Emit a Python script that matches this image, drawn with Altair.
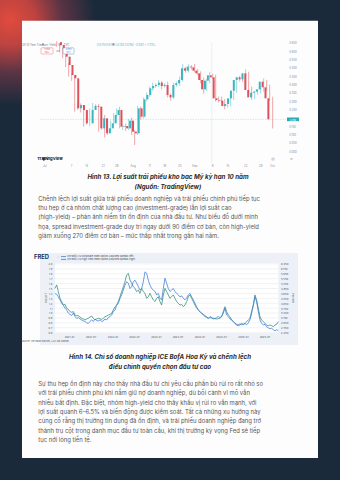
import altair as alt
import pandas as pd

BG = "#1b2a3a"
FONT = "Inter"

# ---------------- Figure 13: US 10Y Treasury yield, daily candles ----------------
closes = [4.638, 4.608, 4.568, 4.518, 4.458, 4.438, 4.258, 4.278, 4.248, 4.168,
          4.168, 4.248, 4.272, 4.268, 4.138, 4.198, 4.108, 4.138, 4.168, 4.218,
          4.248, 4.148, 4.152, 4.138, 4.184, 4.118, 4.108, 4.258, 4.208, 4.312,
          4.338, 4.378, 4.392, 4.398, 4.412, 4.392, 4.398, 4.338, 4.324, 4.398,
          4.408, 4.428, 4.498, 4.484, 4.508, 4.504, 4.484, 4.468, 4.428, 4.372,
          4.424, 4.456, 4.444, 4.318, 4.308, 4.304, 4.272, 4.284, 4.318, 4.364,
          4.428, 4.444, 4.432, 4.468, 4.368, 4.324, 4.352, 4.358, 4.372, 4.418,
          4.384, 4.318, 4.192]
first_open = 4.655
wick_hi = [0.005, 0.010, 0.015, 0.010, 0.012, 0.010, 0.020, 0.015, 0.010, 0.012,
           0.015, 0.010, 0.018, 0.010, 0.015, 0.010, 0.020, 0.010, 0.015, 0.012,
           0.010, 0.020, 0.010, 0.015, 0.010, 0.018, 0.010, 0.015, 0.010, 0.012,
           0.015, 0.010, 0.020, 0.010, 0.015, 0.010, 0.012, 0.020, 0.010, 0.015,
           0.010, 0.020, 0.025, 0.010, 0.015, 0.010, 0.020, 0.010, 0.012, 0.015,
           0.010, 0.020, 0.010, 0.015, 0.010, 0.020, 0.010, 0.015, 0.010, 0.012,
           0.020, 0.010, 0.015, 0.025, 0.010, 0.020, 0.010, 0.015, 0.010, 0.020,
           0.010, 0.015, 0.010]
wick_lo = [0.010, 0.015, 0.010, 0.012, 0.010, 0.015, 0.020, 0.010, 0.015, 0.020,
           0.010, 0.015, 0.010, 0.012, 0.020, 0.010, 0.025, 0.010, 0.015, 0.010,
           0.012, 0.010, 0.020, 0.015, 0.010, 0.020, 0.070, 0.010, 0.015, 0.010,
           0.012, 0.010, 0.015, 0.010, 0.012, 0.020, 0.010, 0.015, 0.020, 0.010,
           0.010, 0.015, 0.010, 0.012, 0.010, 0.015, 0.010, 0.012, 0.020, 0.025,
           0.010, 0.015, 0.010, 0.020, 0.015, 0.010, 0.020, 0.010, 0.015, 0.010,
           0.012, 0.010, 0.015, 0.010, 0.020, 0.015, 0.010, 0.012, 0.010, 0.015,
           0.020, 0.015, 0.055]
price_ticks = [4.65, 4.60, 4.55, 4.50, 4.45, 4.40, 4.35, 4.30, 4.25, 4.15, 4.10, 4.05, 4.00]
time_tick_pos = [-4, 5, 10, 15.5, 20, 25.5, 31, 36, 41, 46, 52, 57, 63, 68, 72]
time_tick_lbl = ["Jul", "7", "14", "21", "28", "Aug", "11", "18", "25", "Sep", "8", "15", "22", "29", "Oct"]

# ---------------- Figure 14: FRED option-adjusted spreads ----------------
ig_oas = [1.40, 1.38, 1.33, 1.27, 1.20, 1.16, 1.10, 1.06, 1.00, 0.97,
          0.95, 1.00, 0.93, 0.89, 0.91, 0.88, 0.86, 0.84, 0.83, 0.80,
          0.79, 0.83, 0.86, 0.83, 0.88, 0.85, 0.84, 0.86, 0.83, 0.84,
          0.88, 0.86, 0.91, 0.93, 0.96, 1.03, 1.06, 1.16, 1.20, 1.30,
          1.37, 1.47, 1.57, 1.64, 1.61, 1.50, 1.54, 1.64, 1.67, 1.61,
          1.54, 1.47, 1.50, 1.64, 1.84, 1.81, 1.67, 1.57, 1.50, 1.47,
          1.44, 1.37, 1.40, 1.30, 1.27, 1.50, 1.71, 1.61, 1.50, 1.44,
          1.47, 1.50, 1.44, 1.40, 1.37, 1.33, 1.35, 1.30, 1.27, 1.31,
          1.37, 1.40, 1.33, 1.27, 1.20, 1.13, 1.06, 1.03, 1.00, 0.96,
          0.93, 0.91, 0.89, 0.93, 0.91, 0.88, 0.89, 0.91, 0.93, 0.91,
          0.93, 1.00, 1.10, 0.96, 0.93, 0.88, 0.86, 0.83, 0.79, 0.77,
          0.76, 0.78, 0.76, 0.77, 0.79, 0.76, 0.80, 0.86, 1.00, 1.16,
          1.33, 1.23, 1.03, 0.86, 0.79, 0.76, 0.77, 0.72, 0.70, 0.68,
          0.69, 0.66, 0.64, 0.66, 0.64]
hy_oas = [4.96, 5.17, 4.76, 4.35, 4.15, 3.94, 3.98, 3.74, 3.68, 3.54,
          3.50, 3.54, 3.33, 3.29, 3.29, 3.21, 3.13, 3.09, 3.03, 3.09,
          3.13, 3.21, 3.27, 3.13, 3.03, 3.09, 3.13, 3.09, 3.07, 3.13,
          3.23, 3.27, 3.33, 3.37, 3.43, 3.64, 3.84, 3.94, 4.15, 4.45,
          4.76, 5.06, 5.37, 5.78, 5.88, 5.47, 5.27, 5.06, 4.96, 4.76,
          4.86, 4.66, 4.96, 4.76, 4.66, 4.35, 4.45, 4.66, 4.45, 4.25,
          4.15, 4.35, 4.45, 4.15, 3.94, 4.56, 4.96, 4.76, 4.56, 4.35,
          4.45, 4.56, 4.35, 4.15, 4.05, 3.94, 3.98, 3.84, 3.94, 4.15,
          4.45, 4.56, 4.35, 4.15, 3.94, 3.74, 3.64, 3.54, 3.43, 3.37,
          3.29, 3.23, 3.13, 3.17, 3.15, 3.13, 3.11, 3.09, 3.11, 3.13,
          3.23, 3.54, 3.84, 3.54, 3.33, 3.23, 3.03, 2.92, 2.82, 2.72,
          2.68, 2.72, 2.82, 2.76, 2.82, 2.92, 3.03, 3.13, 3.54, 3.94,
          4.56, 4.25, 3.74, 3.23, 3.03, 2.92, 2.82, 2.72, 2.68, 2.72,
          2.68, 2.62, 2.72, 2.76, 2.92]
left_ticks = [0.6, 0.7, 0.8, 0.9, 1.0, 1.1, 1.2, 1.3, 1.4, 1.5, 1.6, 1.7, 1.8, 1.9, 2.0]
right_ticks = [2.25, 2.55, 2.85, 3.15, 3.45, 3.75, 4.05, 4.35, 4.65, 4.95, 5.25, 5.55, 5.85, 6.15, 6.45]
x_ticks = ["2021-01", "2021-07", "2022-01", "2022-07", "2023-01", "2023-07",
           "2024-01", "2024-07", "2025-01", "2025-07"]

# ---------------- texts ----------------
cap1 = ["Hình 13. Lợi suất trái phiếu kho bạc Mỹ kỳ hạn 10 năm", "(Nguồn: TradingView)"]
para1 = ["Chênh lệch lợi suất giữa trái phiếu doanh nghiệp và trái phiếu chính phủ tiếp tục",
         "thu hẹp ở cả nhóm chất lượng cao (investment-grade) lẫn lợi suất cao",
         "(high-yield) – phản ánh niềm tin ổn định của nhà đầu tư. Như biểu đồ dưới minh",
         "họa, spread investment-grade duy trì ngay dưới 90 điểm cơ bản, còn high-yield",
         "giảm xuống 270 điểm cơ bản – mức thấp nhất trong gần hai năm."]
cap2 = ["Hình 14. Chỉ số doanh nghiệp ICE BofA Hoa Kỳ và chênh lệch",
        "điều chỉnh quyền chọn đầu tư cao"]
para2 = ["Sự thu hẹp ổn định này cho thấy nhà đầu tư chỉ yêu cầu phần bù rủi ro rất nhỏ so",
         "với trái phiếu chính phủ khi nắm giữ nợ doanh nghiệp, dù bối cảnh vĩ mô vẫn",
         "nhiều bất định. Đặc biệt, nhóm high-yield cho thấy khẩu vị rủi ro vẫn mạnh, với",
         "lợi suất quanh 6–6.5% và biến động được kiểm soát. Tất cả những xu hướng này",
         "củng cố rằng thị trường tín dụng đã ổn định, và trái phiếu doanh nghiệp đang trở",
         "thành trụ cột trong danh mục đầu tư toàn cầu, khi thị trường kỳ vọng Fed sẽ tiếp",
         "tục nới lỏng tiền tệ."]
fred_legend = ["ICE BofA US Corporate Index Option-Adjusted Spread (left)",
               "ICE BofA US High Yield Index Option-Adjusted Spread (right)"]

# ---------------- helpers ----------------
ONE = alt.Data(values=[{"a": 1}])


def vrect(x, x2, y, y2, **mk):
    return alt.Chart(ONE).mark_rect(**mk).encode(
        x=alt.value(x), x2=alt.value(x2), y=alt.value(y), y2=alt.value(y2))


def vtext(t, x, y, **mk):
    mk.setdefault("font", FONT)
    mk.setdefault("baseline", "middle")
    return alt.Chart(ONE).mark_text(text=t, **mk).encode(x=alt.value(x), y=alt.value(y))


def lines_text(lines, x, y0, dy, **mk):
    mk.setdefault("font", FONT)
    mk.setdefault("baseline", "middle")
    n = len(lines)
    df = pd.DataFrame({"t": lines, "k": list(range(n))})
    m = max(n - 1, 1)
    return alt.Chart(df).mark_text(**mk).encode(
        x=alt.value(x),
        y=alt.Y("k:Q", axis=None,
                scale=alt.Scale(domain=[0, m], range=[y0, y0 + dy * m], nice=False, zero=False)),
        text="t:N")


layers = []

# glow + card
layers.append(alt.Chart(ONE).mark_rect(fill=alt.RadialGradient(
    gradient="radial",
    stops=[alt.GradientStop(offset=0, color="#e04b3d"),
           alt.GradientStop(offset=0.3, color="#bd4340"),
           alt.GradientStop(offset=0.62, color="#5a3444"),
           alt.GradientStop(offset=1, color=BG)],
    x1=0.5, y1=0.5, r1=0, x2=0.5, y2=0.5, r2=0.5)).encode(
    x=alt.value(-75), x2=alt.value(95), y=alt.value(-65), y2=alt.value(105)))
layers.append(vrect(22, 318, 20.7, 458, fill="#fdfdfd"))

# ---------------- candle chart ----------------
opens = [first_open] + closes[:-1]
highs = [max(o, c) + w for o, c, w in zip(opens, closes, wick_hi)]
lows = [min(o, c) - w for o, c, w in zip(opens, closes, wick_lo)]
cdf = pd.DataFrame({"i": list(range(len(closes))), "o": opens, "c": closes, "h": highs, "l": lows})
cx = alt.Scale(domain=[-6, 78], range=[38.67, 290.67], nice=False, zero=False)
cy = alt.Scale(domain=[4.0, 4.7], range=[151.33, 34.67], nice=False, zero=False)
UP, DOWN = "#3ab6c3", "#e0505a"
ccol = alt.condition("datum.c >= datum.o", alt.value(UP), alt.value(DOWN))

# crosshair and price line
layers.append(alt.Chart(ONE).mark_rule(color="#dde0e5", strokeWidth=0.5).encode(
    x=alt.X(datum=51.7, scale=cx, axis=None), y=alt.value(42), y2=alt.value(163)))
layers.append(alt.Chart(ONE).mark_rule(color="#9fd9e0", strokeWidth=0.5, strokeDash=[1.5, 1]).encode(
    y=alt.Y(datum=closes[-1], scale=cy, axis=None), x=alt.value(40), x2=alt.value(287)))

layers.append(alt.Chart(cdf).mark_rule(strokeWidth=0.5).encode(
    x=alt.X("i:Q", scale=cx, axis=None),
    y=alt.Y("l:Q", scale=cy, axis=None), y2="h:Q", color=ccol))
layers.append(alt.Chart(cdf).mark_bar(size=2.0).encode(
    x=alt.X("i:Q", scale=cx, axis=None),
    y=alt.Y("o:Q", scale=cy, axis=None), y2="c:Q", color=ccol))

# price axis labels
layers.append(alt.Chart(pd.DataFrame({"v": price_ticks})).mark_text(
    font=FONT, fontSize=2.8, color="#8a8e96", align="left", baseline="middle").encode(
    x=alt.value(289), y=alt.Y("v:Q", scale=cy, axis=None), text=alt.Text("v:Q", format=".3f")))
# current price tag
layers.append(alt.Chart(ONE).mark_rect(fill="#2aa9b6").encode(
    x=alt.value(287), x2=alt.value(299),
    y=alt.Y(datum=closes[-1] + 0.011, scale=cy, axis=None), y2=alt.Y2(datum=closes[-1] - 0.011)))
layers.append(alt.Chart(ONE).mark_text(text=f"{closes[-1]:.3f}", font=FONT, fontSize=2.6,
                                       color="white", baseline="middle").encode(
    x=alt.value(293), y=alt.Y(datum=closes[-1], scale=cy, axis=None)))
# time axis labels
layers.append(alt.Chart(pd.DataFrame({"p": time_tick_pos, "t": time_tick_lbl})).mark_text(
    font=FONT, fontSize=2.8, color="#8a8e96", baseline="middle").encode(
    x=alt.X("p:Q", scale=cx, axis=None), y=alt.value(165.5), text="t:N"))

# legend row and price boxes
layers.append(alt.Chart(ONE).mark_circle(size=5, color="#8f9bb3", opacity=1).encode(
    x=alt.value(43), y=alt.value(44.3)))
layers.append(vtext("US 10 Year Treasury Yield · 1D · TVC", 45.5, 44.3, fontSize=2.8, color="#7b7f88"))
layers.append(alt.Chart(ONE).mark_circle(size=3, color="#e0505a", opacity=1).encode(
    x=alt.value(113.5), y=alt.value(44.3)))
layers.append(vtext("O4.174  H4.181  L4.135  C4.192  −0.047  (−1.11%)", 126, 44.3,
                    fontSize=2.8, color="#3ab6c3"))
layers.append(vrect(41, 53, 47.8, 54, fill="white", stroke="#e0505a", strokeWidth=0.4, cornerRadius=0.8))
layers.append(vrect(63, 74, 47.8, 54, fill="white", stroke="#2f7fe0", strokeWidth=0.4, cornerRadius=0.8))
layers.append(vtext("4.190", 47, 49.6, fontSize=2.3, color="#e0505a", align="center"))
layers.append(vtext("SELL", 47, 52.2, fontSize=2.0, color="#e0505a", align="center"))
layers.append(vtext("0.3", 58, 50.8, fontSize=2.0, color="#555", align="center"))
layers.append(vtext("4.193", 68.5, 49.6, fontSize=2.3, color="#2f7fe0", align="center"))
layers.append(vtext("BUY", 68.5, 52.2, fontSize=2.0, color="#2f7fe0", align="center"))

# TradingView logo (drawn glyph) + wordmark + corner icons
layers.append(vrect(42, 45.2, 157.6, 158.6, fill="#131722"))
layers.append(vrect(43.2, 44.4, 158.6, 160.8, fill="#131722"))
layers.append(alt.Chart(ONE).mark_circle(size=1.6, color="#131722", opacity=1).encode(
    x=alt.value(46.2), y=alt.value(158.1)))
layers.append(alt.Chart(ONE).mark_point(shape="triangle-down", size=3, filled=True,
                                        color="#131722", opacity=1).encode(
    x=alt.value(47.6), y=alt.value(159.2)))
layers.append(vtext("TradingView", 50, 159, fontSize=4.1, fontWeight="bold", color="#131722"))
layers.append(alt.Chart(ONE).mark_circle(size=14, color="#d9d3ea", opacity=1).encode(
    x=alt.value(273), y=alt.value(159)))
layers.append(vtext("⚙", 291, 159, fontSize=3.2, color="#9aa0a8", align="center"))

# caption 1 + paragraph 1
layers.append(lines_text(cap1, 168, 176.7, 10.6, fontSize=6.2, fontWeight="bold",
                         fontStyle="italic", color="#2c2c2c", align="center"))
layers.append(lines_text(para1, 38.3, 198.7, 9.3, fontSize=5.9, color="#575757", align="left"))

# ---------------- FRED chart ----------------
layers.append(vrect(40, 298, 253, 345, fill="#edf1f7"))
layers.append(vrect(55, 278.3, 263.2, 333.2, fill="#ffffff"))
ly = alt.Scale(domain=[0.6, 2.0], range=[332.7, 264.0], nice=False, zero=False)
ry = alt.Scale(domain=[2.25, 6.45], range=[332.7, 264.0], nice=False, zero=False)
tx = alt.Scale(domain=[alt.DateTime(year=2020, month=9, date=1),
                       alt.DateTime(year=2025, month=10, date=21)],
               range=[55, 278.3], nice=False)
layers.append(alt.Chart(pd.DataFrame({"v": left_ticks})).mark_rule(color="#e3e5e8", strokeWidth=0.5).encode(
    y=alt.Y("v:Q", scale=ly, axis=None), x=alt.value(55), x2=alt.value(278.3)))

dates = pd.date_range("2020-09-01", periods=len(ig_oas), freq="14D")
fdf = pd.DataFrame({"d": dates, "ig": ig_oas, "hy": hy_oas})
layers.append(alt.Chart(fdf).mark_line(color="#2f8a78", strokeWidth=0.75).encode(
    x=alt.X("d:T", scale=tx, axis=None), y=alt.Y("hy:Q", scale=ry, axis=None)))
layers.append(alt.Chart(fdf).mark_line(color="#3a7bd5", strokeWidth=0.75).encode(
    x=alt.X("d:T", scale=tx, axis=None), y=alt.Y("ig:Q", scale=ly, axis=None)))

layers.append(alt.Chart(pd.DataFrame({"v": left_ticks})).mark_text(
    font=FONT, fontSize=2.7, color="#555", align="right", baseline="middle").encode(
    x=alt.value(52.5), y=alt.Y("v:Q", scale=ly, axis=None), text=alt.Text("v:Q", format=".1f")))
layers.append(alt.Chart(pd.DataFrame({"v": right_ticks})).mark_text(
    font=FONT, fontSize=2.7, color="#555", align="left", baseline="middle").encode(
    x=alt.value(281), y=alt.Y("v:Q", scale=ry, axis=None), text=alt.Text("v:Q", format=".3f")))
xt = pd.DataFrame({"d": pd.to_datetime([s + "-01" for s in x_ticks]), "t": x_ticks})
layers.append(alt.Chart(xt).mark_text(font=FONT, fontSize=2.6, color="#555", baseline="middle").encode(
    x=alt.X("d:T", scale=tx, axis=None), y=alt.value(336.3), text="t:N"))
layers.append(vtext("Percent", 45.5, 298, fontSize=2.7, color="#555", align="center", angle=270))
layers.append(vtext("Percent", 293, 298, fontSize=2.7, color="#555", align="center", angle=90))
layers.append(vtext("Source: Ice Data Indices, LLC via FRED®", 45, 341.3, fontSize=2.5, color="#555"))
layers.append(vtext("FRED", 41.5, 257.3, fontSize=5.8, fontWeight="bold", color="#1d3354"))
layers.append(vtext("⟋", 58, 257.3, fontSize=3.5, color="#7a8fb0"))
layers.append(alt.Chart(ONE).mark_rule(color="#3a7bd5", strokeWidth=0.8).encode(
    x=alt.value(61), x2=alt.value(66), y=alt.value(256.6)))
layers.append(alt.Chart(ONE).mark_rule(color="#2f8a78", strokeWidth=0.8).encode(
    x=alt.value(61), x2=alt.value(66), y=alt.value(259.4)))
layers.append(lines_text(fred_legend, 67, 256.6, 2.8, fontSize=2.4, color="#444", align="left"))

# caption 2 + paragraph 2
layers.append(lines_text(cap2, 160, 356.7, 10.0, fontSize=6.2, fontWeight="bold",
                         fontStyle="italic", color="#2c2c2c", align="center"))
layers.append(lines_text(para2, 38.3, 384.0, 9.3, fontSize=5.9, color="#575757", align="left"))

chart = alt.layer(*layers).resolve_scale(
    x="independent", y="independent", color="independent"
).properties(
    width=340, height=480, padding=0, autosize=alt.AutoSizeParams(type="none"), background=BG
).configure_view(stroke=None, strokeWidth=0)

chart.save("out.html", embed_options={"renderer": "svg", "actions": False})
